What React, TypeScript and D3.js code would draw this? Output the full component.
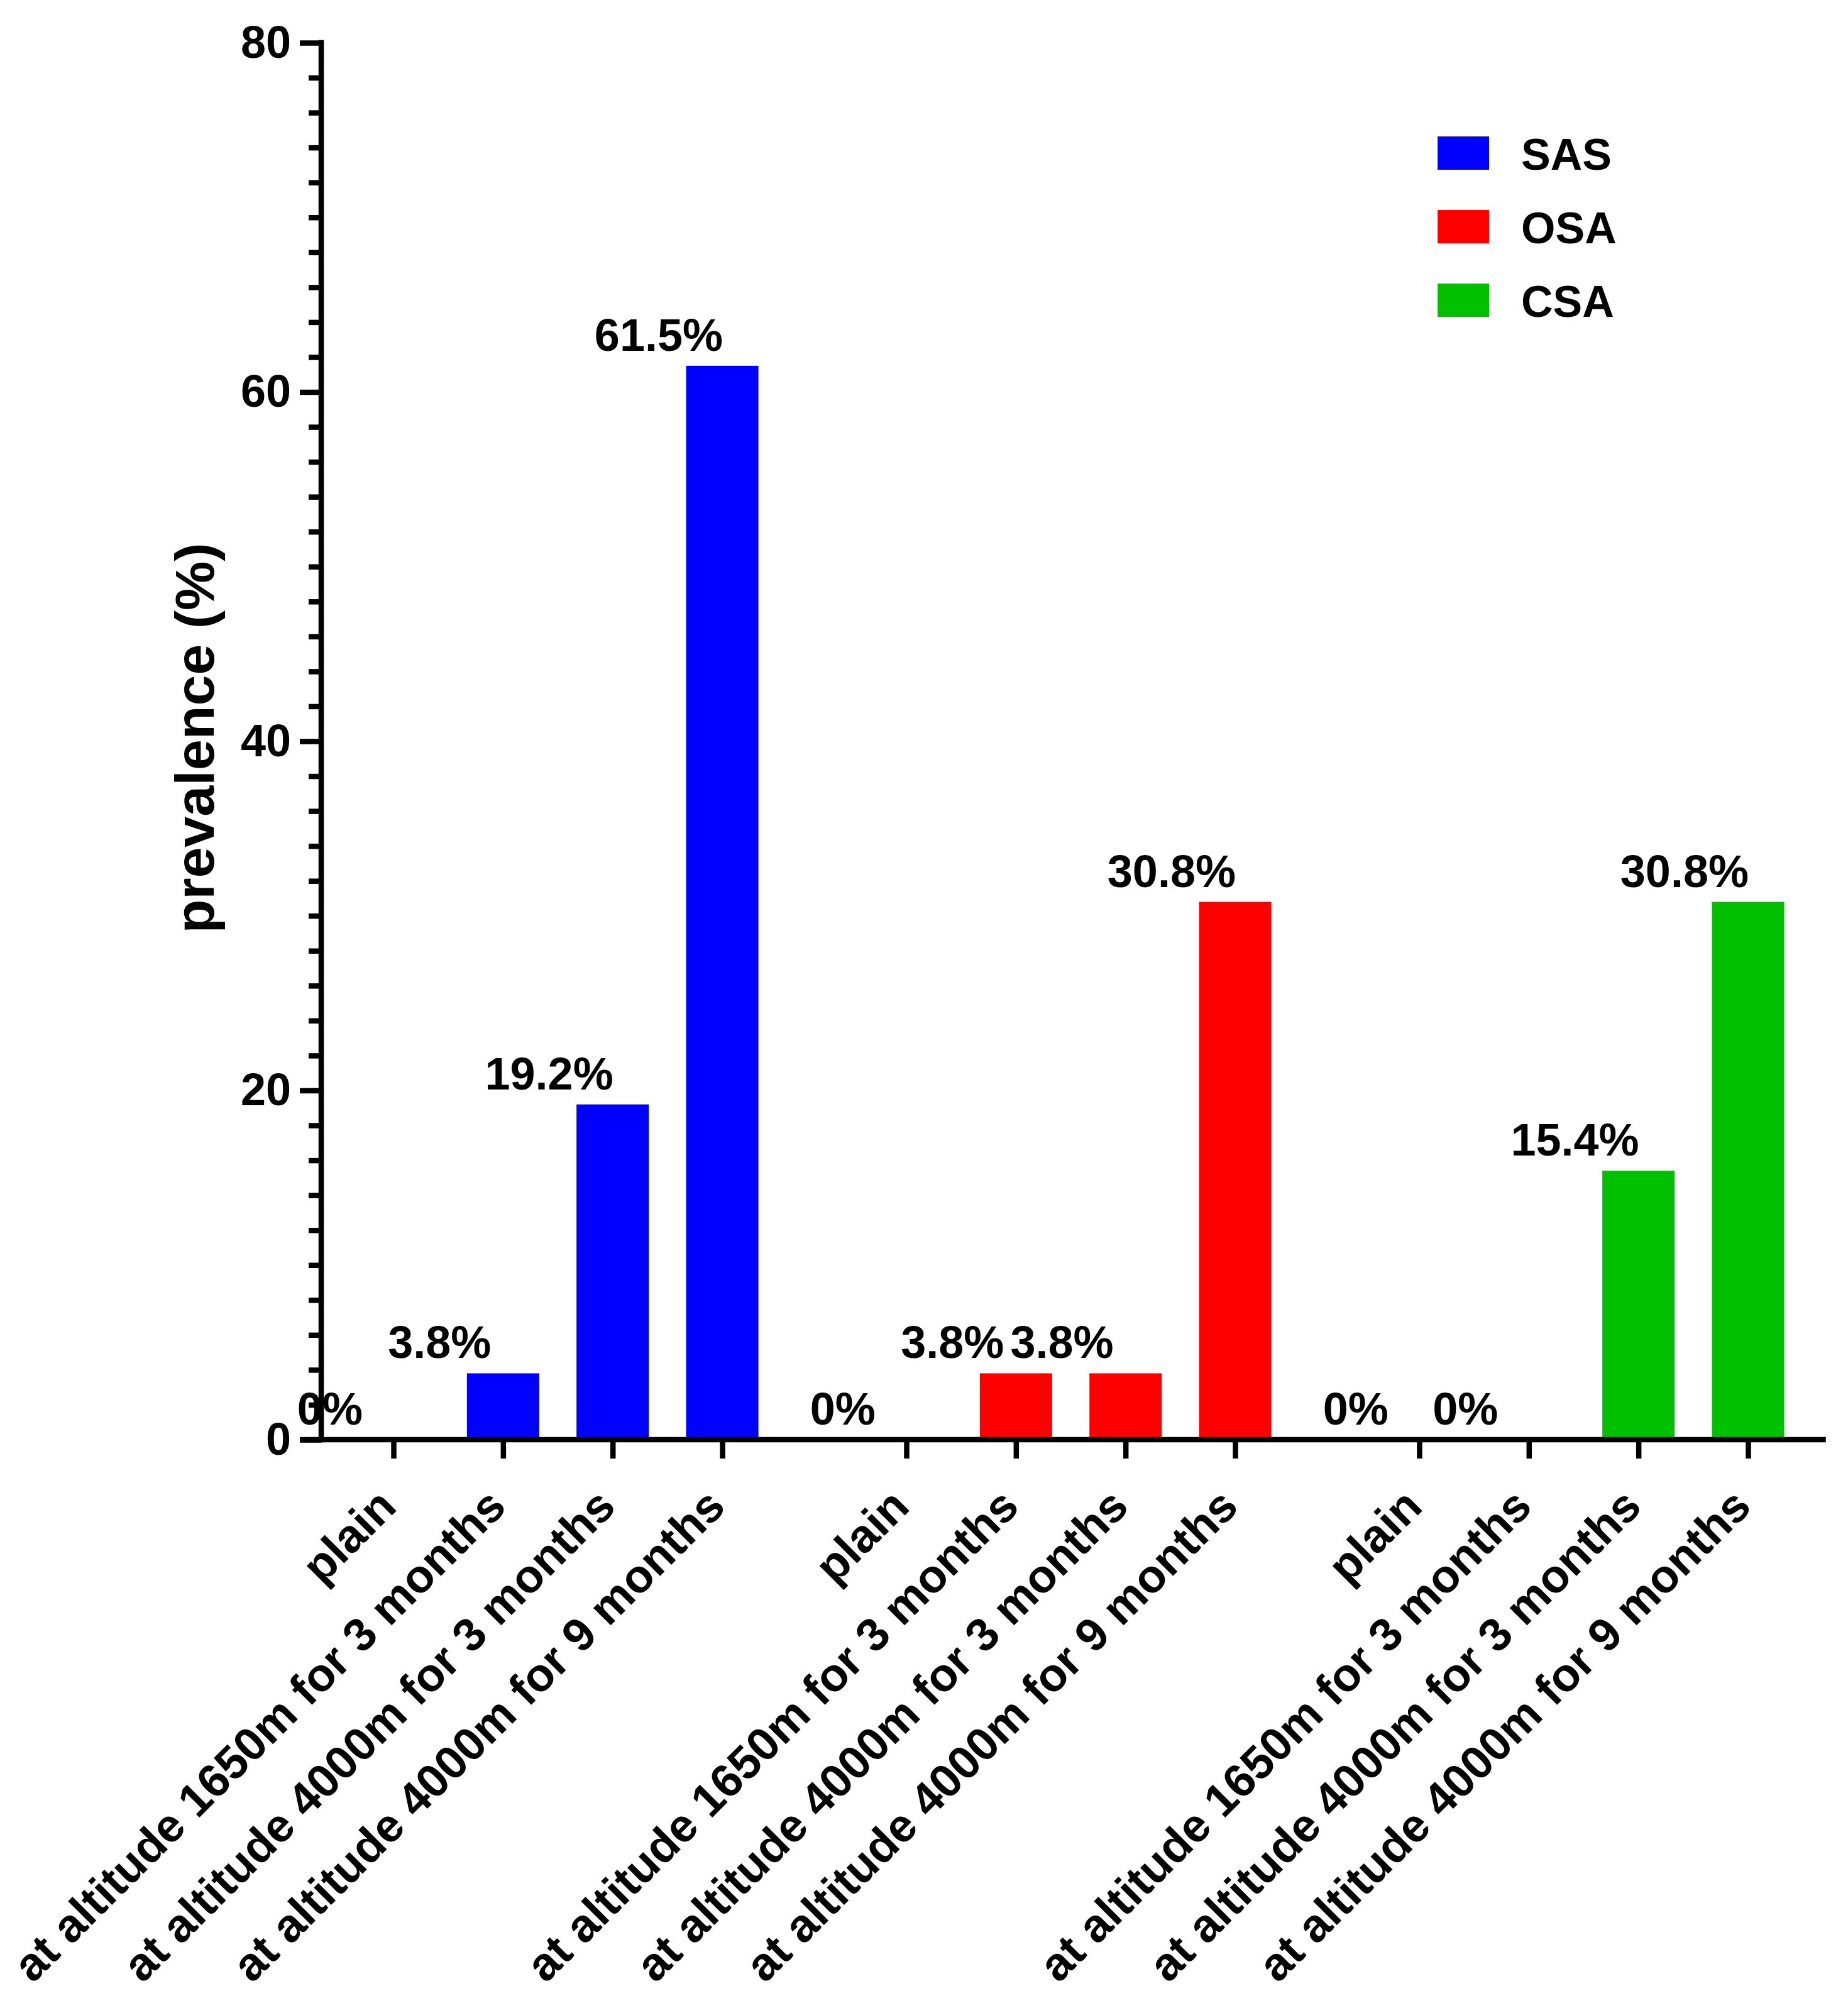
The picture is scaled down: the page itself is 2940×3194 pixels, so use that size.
import React, { useEffect, useRef } from 'react';
import * as d3 from 'd3';

const CATEGORIES = [
  'plain',
  'at altitude 1650m for 3 months',
  'at altitude 4000m for 3 months',
  'at altitude 4000m for 9 months',
];
const SERIES = ['SAS', 'OSA', 'CSA'];
const SAS_VALUES = [0, 3.8, 19.2, 61.5];
const OSA_VALUES = [0, 3.8, 3.8, 30.8];
const CSA_VALUES = [0, 0, 15.4, 30.8];
const Y_TICKS = [0, 20, 40, 60, 80];
const Y_LABEL = 'prevalence (%)';

const COLORS = ['#0000ff', '#ff0000', '#00c000'];
const FONT = '"Liberation Sans", Arial, sans-serif';

export default function App() {
  const svgRef = useRef<SVGSVGElement>(null);

  useEffect(() => {
    if (!svgRef.current) return;
    const W = 2940;
    const H = 3194;
    const svg = d3.select(svgRef.current);
    svg.selectAll('*').remove();

    const values = [SAS_VALUES, OSA_VALUES, CSA_VALUES];
    const groupGap = 0.68; // extra slot space between data sets
    const nCat = CATEGORIES.length;
    const slot = (g: number, i: number) => g * (nCat + groupGap) + i;
    const lastSlot = slot(SERIES.length - 1, nCat - 1);

    const axisX = 511;
    const x = d3.scaleLinear().domain([0, lastSlot]).range([626, 2781]);
    const step = x(1) - x(0);
    const y = d3.scaleLinear().domain([0, 80]).range([2290, 68]);
    const lw = 8.5;

    // bars
    SERIES.forEach((s, g) => {
      svg
        .append('g')
        .selectAll('rect')
        .data(values[g])
        .enter()
        .append('rect')
        .attr('x', (_d, i) => x(slot(g, i)) - step * 0.33)
        .attr('width', step * 0.66)
        .attr('y', (d) => y(d))
        .attr('height', (d) => y(0) - y(d))
        .attr('fill', COLORS[g]);
    });

    // y axis
    const yMinor = d3.range(0, 81, 2).filter((v) => v % 20 !== 0);
    const yAxisG = svg.append('g').attr('transform', `translate(${axisX},0)`);
    yAxisG
      .append('g')
      .call(d3.axisLeft(y).tickValues(yMinor).tickSize(20).tickSizeOuter(0).tickFormat(() => ''))
      .call((a) => a.select('.domain').remove())
      .call((a) => a.selectAll('line').attr('stroke', '#000').attr('stroke-width', lw));
    yAxisG
      .append('g')
      .call(d3.axisLeft(y).tickValues(Y_TICKS).tickSize(34).tickSizeOuter(0).tickPadding(14))
      .call((a) => a.select('.domain').remove())
      .call((a) => a.selectAll('line').attr('stroke', '#000').attr('stroke-width', lw))
      .call((a) =>
        a
          .selectAll('text')
          .attr('font-family', FONT)
          .attr('font-weight', 'bold')
          .attr('font-size', 72)
          .attr('fill', '#000')
      );
    yAxisG
      .append('line')
      .attr('x1', 0)
      .attr('x2', 0)
      .attr('y1', y(80) - lw / 2)
      .attr('y2', y(0) + lw / 2)
      .attr('stroke', '#000')
      .attr('stroke-width', lw);

    // x axis
    const slots = SERIES.flatMap((_s, g) => CATEGORIES.map((_c, i) => slot(g, i)));
    const labels = SERIES.flatMap(() => CATEGORIES);
    svg
      .append('line')
      .attr('x1', axisX - 34)
      .attr('x2', x(lastSlot + 0.71))
      .attr('y1', y(0))
      .attr('y2', y(0))
      .attr('stroke', '#000')
      .attr('stroke-width', lw);
    svg
      .append('g')
      .attr('transform', `translate(0,${y(0)})`)
      .call(d3.axisBottom(x).tickValues(slots).tickSize(30).tickSizeOuter(0).tickFormat(() => ''))
      .call((a) => a.select('.domain').remove())
      .call((a) => a.selectAll('line').attr('stroke', '#000').attr('stroke-width', lw));

    svg
      .append('g')
      .selectAll('text')
      .data(slots)
      .enter()
      .append('text')
      .attr('transform', (d) => `translate(${x(d) + 8},${y(0) + 110}) rotate(-45)`)
      .attr('text-anchor', 'end')
      .attr('font-family', FONT)
      .attr('font-weight', 'bold')
      .attr('font-size', 74)
      .attr('fill', '#000')
      .text((_d, i) => labels[i]);

    // value labels
    SERIES.forEach((_s, g) => {
      svg
        .append('g')
        .selectAll('text')
        .data(values[g])
        .enter()
        .append('text')
        .attr('x', (_d, i) => x(slot(g, i)) - step * 0.58)
        .attr('y', (d) => y(d) - 24)
        .attr('text-anchor', 'middle')
        .attr('font-family', FONT)
        .attr('font-weight', 'bold')
        .attr('font-size', 72)
        .attr('fill', '#000')
        .text((d) => `${d}%`);
    });

    // y title
    svg
      .append('text')
      .attr('transform', `translate(340,1174) rotate(-90)`)
      .attr('text-anchor', 'middle')
      .attr('font-family', FONT)
      .attr('font-weight', 'bold')
      .attr('font-size', 88)
      .attr('fill', '#000')
      .text(Y_LABEL);

    // legend
    const legend = svg
      .append('g')
      .selectAll('g')
      .data(SERIES)
      .enter()
      .append('g')
      .attr('transform', (_d, i) => `translate(2287,${217 + i * 117})`);
    legend
      .append('rect')
      .attr('width', 82)
      .attr('height', 53)
      .attr('fill', (_d, i) => COLORS[i]);
    legend
      .append('text')
      .attr('x', 133)
      .attr('y', 53)
      .attr('font-family', FONT)
      .attr('font-weight', 'bold')
      .attr('font-size', 70)
      .attr('fill', '#000')
      .text((d) => d);

    svg.attr('width', W).attr('height', H);
  }, []);

  return (
    <div style={{ position: 'absolute', left: 0, top: 0, background: '#fff' }}>
      <svg ref={svgRef} width={2940} height={3194} style={{ display: 'block' }} />
    </div>
  );
}
